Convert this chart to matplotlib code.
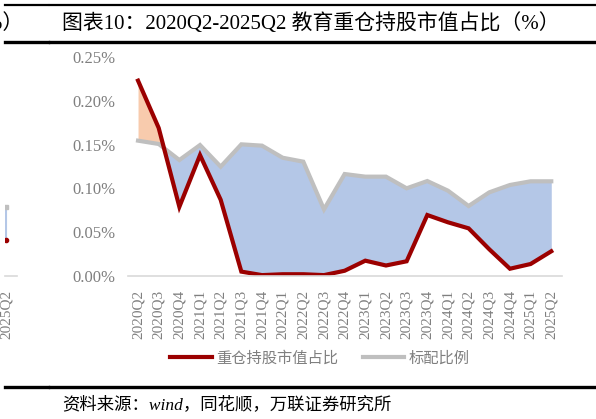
import matplotlib
matplotlib.use("Agg")
import matplotlib.pyplot as plt
from matplotlib.lines import Line2D
import numpy as np

plt.rcParams['font.family'] = ['Liberation Serif', 'Noto Sans CJK SC', 'DejaVu Sans']

quarters = ["2020Q2", "2020Q3", "2020Q4", "2021Q1", "2021Q2", "2021Q3", "2021Q4",
            "2022Q1", "2022Q2", "2022Q3", "2022Q4", "2023Q1", "2023Q2", "2023Q3",
            "2023Q4", "2024Q1", "2024Q2", "2024Q3", "2024Q4", "2025Q1", "2025Q2"]
heavy = [0.223, 0.169, 0.079, 0.138, 0.087, 0.005, 0.001, 0.002, 0.002, 0.001,
         0.006, 0.0175, 0.012, 0.0168, 0.0696, 0.0613, 0.0544, 0.0305, 0.0083,
         0.0137, 0.0282]
standard = [0.1545, 0.1507, 0.1324, 0.1495, 0.1248, 0.1503, 0.1488, 0.135, 0.1305,
            0.0761, 0.1164, 0.1134, 0.1134, 0.1001, 0.1084, 0.0974, 0.0799, 0.0955,
            0.1039, 0.1081, 0.1081]
yticks = [0.0, 0.05, 0.10, 0.15, 0.20, 0.25]
ytick_labels = ["0.00%", "0.05%", "0.10%", "0.15%", "0.20%", "0.25%"]

# fragment of previous chart (left edge)
frag_quarter = ["2025Q2"]
frag_heavy = [0.041]
frag_standard = [0.079]

title = "图表10：2020Q2-2025Q2 教育重仓持股市值占比（%）"
source = "资料来源：wind，同花顺，万联证券研究所"
legend_labels = ["重仓持股市值占比", "标配比例"]

RED = "#9B0000"
GREY = "#BFBFBF"
BLUE = "#B4C7E7"
ORANGE = "#F8CBAD"
TXT = "#7F7F7F"

W, H = 596, 419
fig = plt.figure(figsize=(W / 100, H / 100), dpi=100)

def px_ax(x0, y0, x1, y1):
    return fig.add_axes([x0 / W, 1 - y1 / H, (x1 - x0) / W, (y1 - y0) / H])

def style_ax(ax):
    for s in ["top", "right", "left"]:
        ax.spines[s].set_visible(False)
    ax.spines["bottom"].set_color("#D9D9D9")
    ax.spines["bottom"].set_linewidth(1.2)
    ax.tick_params(axis="both", length=0, colors=TXT, labelsize=11)
    ax.set_ylim(0, 0.25)

# main axes
ax = px_ax(127.7, 57, 561.6, 276)
x = np.arange(len(quarters))
h = np.array(heavy)
s = np.array(standard)
ax.fill_between(x, h, s, where=h >= s, interpolate=True, color=ORANGE, lw=0)
ax.fill_between(x, h, s, where=h <= s, interpolate=True, color=BLUE, lw=0)
ax.plot(x, s, color=GREY, lw=3, solid_joinstyle="miter")
ax.plot(x, h, color=RED, lw=3, solid_joinstyle="miter")
ax.set_xlim(-0.5, len(quarters) - 0.5)
style_ax(ax)
ax.set_xticks(x)
ax.set_xticklabels(quarters, rotation=90, va="top", ha="center")
ax.set_yticks(yticks)
ax.set_yticklabels(ytick_labels)
ax.tick_params(axis="x", pad=10)
ax.tick_params(axis="y", pad=9, labelsize=12)

# left fragment axes
axf = px_ax(5, 57, 16.5, 276)
xf = np.arange(len(frag_quarter))
axf.fill_between(xf, frag_heavy, frag_standard, color=BLUE, lw=0)
axf.vlines(xf, frag_heavy, frag_standard, color=BLUE, lw=1.5)
axf.plot(xf, frag_standard, "s", color=GREY, ms=2.5)
axf.plot(xf, frag_heavy, "o", color=RED, ms=3)
axf.set_xlim(-0.048, 0.5)
style_ax(axf)
axf.set_yticks([])
axf.set_xticks(xf)
axf.set_xticklabels(frag_quarter, rotation=90, va="top", ha="center")
axf.tick_params(axis="x", pad=10)

# legend
handles = [Line2D([], [], color=RED, lw=3), Line2D([], [], color=GREY, lw=3)]
fig.legend(handles, legend_labels, loc="center", bbox_to_anchor=(320 / W, 1 - 358 / H),
           ncol=2, frameon=False, fontsize=11, handlelength=2.7, handletextpad=0.3,
           columnspacing=1.6, labelcolor=TXT)

# header / footer rules
for (y, lw) in [(5.5, 1.6), (41.7, 2.4), (387, 2.4)]:
    for (xa, xb) in [(5, 48.5), (49.5, 596)]:
        fig.add_artist(Line2D([xa / W, xb / W], [1 - y / H, 1 - y / H], color="black", lw=lw))

fig.text(62 / W, 1 - 24 / H, title, fontsize=15, va="center", ha="left", color="black")
fig.text(24 / W, 1 - 24 / H, "（%）", fontsize=15, va="center", ha="right", color="black")
fig.text(62 / W, 1 - 405 / H, source, fontsize=12.5, va="center", ha="left",
         style="italic", color="black")

fig.savefig("out.png", dpi=100)
